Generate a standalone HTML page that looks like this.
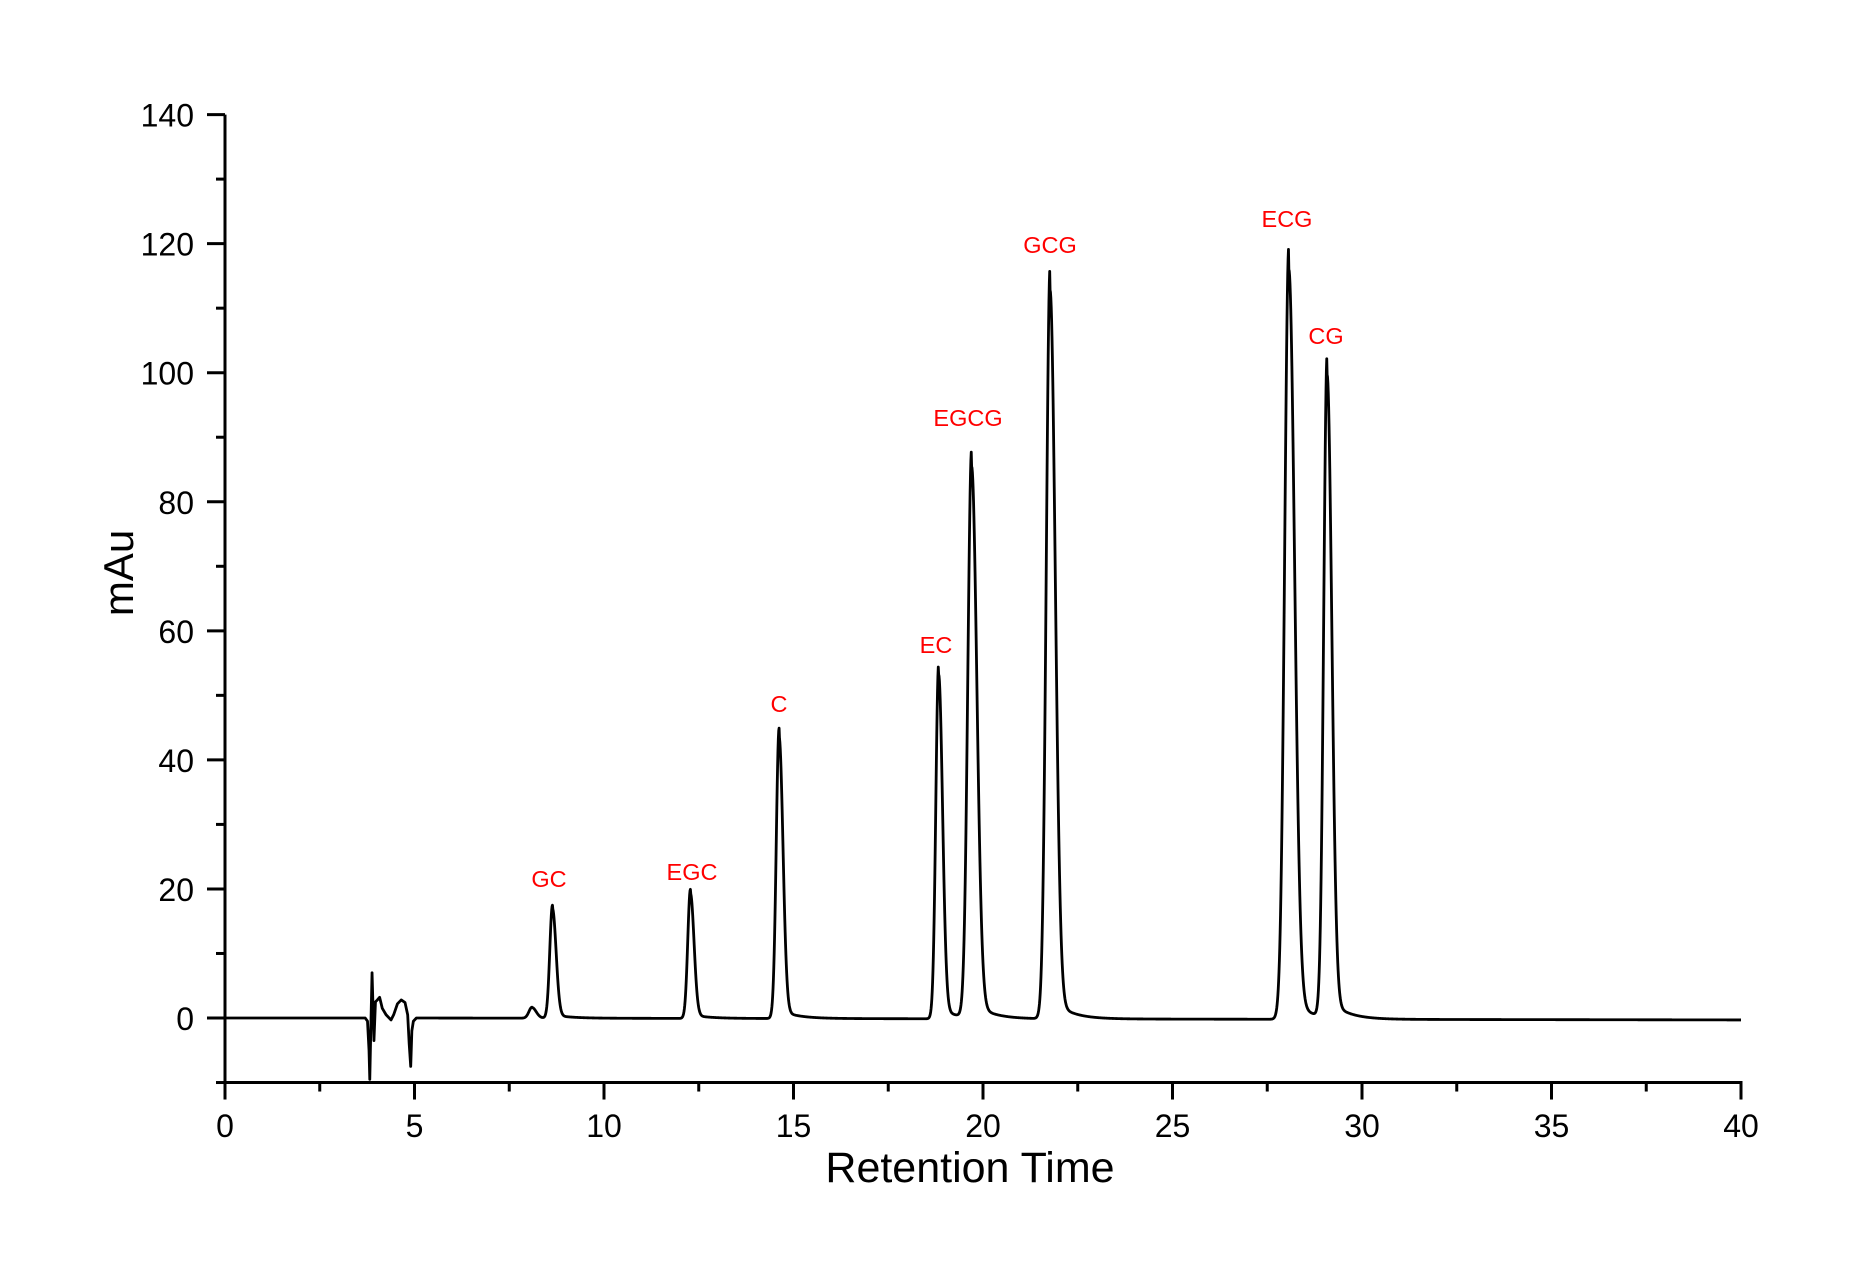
<!DOCTYPE html>
<html><head><meta charset="utf-8"><style>
html,body{margin:0;padding:0;background:#fff;}
svg{display:block;}
text{font-family:"Liberation Sans",Arial,sans-serif;}
</style></head><body>
<svg id="s" width="1855" height="1282" viewBox="0 0 1855 1282" xmlns="http://www.w3.org/2000/svg">
<rect width="1855" height="1282" fill="#fff"/>
<g id="ax" stroke="#000" stroke-width="3" fill="none"></g>
<g id="lab" font-size="32" fill="#000"></g>
<text x="970" y="1182" font-size="43" text-anchor="middle">Retention Time</text>
<text transform="translate(133,573) rotate(-90)" font-size="42" text-anchor="middle">mAu</text>
<path id="tr" fill="none" stroke="#000" stroke-width="2.8" stroke-linejoin="round"/>
<g font-size="23.5" fill="#ff0000" text-anchor="middle">
<text x="549" y="887">GC</text>
<text x="692" y="880">EGC</text>
<text x="779" y="712">C</text>
<text x="936" y="653">EC</text>
<text x="968" y="426">EGCG</text>
<text x="1050" y="253">GCG</text>
<text x="1287" y="227">ECG</text>
<text x="1326" y="344">CG</text>
</g>
</svg>
<script>
var X0=225,XS=37.9,Y0=1018,YS=6.453;
function px(t){return X0+t*XS;} function py(v){return Y0-v*YS;}
var ax=document.getElementById('ax'),lab=document.getElementById('lab'),ns='http://www.w3.org/2000/svg';
function ln(x1,y1,x2,y2){var l=document.createElementNS(ns,'line');l.setAttribute('x1',x1);l.setAttribute('y1',y1);l.setAttribute('x2',x2);l.setAttribute('y2',y2);ax.appendChild(l);}
function tx(x,y,s,a){var t=document.createElementNS(ns,'text');t.setAttribute('x',x);t.setAttribute('y',y);t.setAttribute('text-anchor',a);t.textContent=s;lab.appendChild(t);}
var yb=py(-10);
ln(X0,py(140),X0,yb+1.5); ln(X0-1.5,yb,px(40)+1.5,yb);
for(var v=-10;v<=140;v+=10){var y=py(v);var major=(v%20==0);ln(X0-(major?18:9),y,X0,y);if(major)tx(194,y+12,String(v),'end');}
for(var t=0;t<=40;t+=2.5){var x=px(t);var major=(t%5==0);ln(x,yb,x,yb+(major?17:9));if(major)tx(x,1137,String(t),'middle');}
var peaks=[[8.1,1.7,0.08],[8.64,17.5,0.07],[12.28,20,0.07],[14.62,45,0.075],[18.83,55,0.075],[19.70,88,0.1],[21.77,116.4,0.1],[28.07,119.8,0.11],[29.08,102.6,0.09]];
function f(t){var y=0;
 if(t>5){y+= -0.3*Math.min(1,(t-5)/35);}
 for(var i=0;i<peaks.length;i++){var p=peaks[i],d=t-p[0],s=p[2];
  if(d<0)y+=p[1]*Math.exp(-d*d/(2*s*s));
  else{var sr=s*1.35;y+=p[1]*(0.97*Math.exp(-d*d/(2*sr*sr))+0.03*Math.exp(-d/0.45)*(1-Math.exp(-d*d/(2*s*s))) );}
 }
 return y;}
var man=[[3.7,0],[3.76,-0.5],[3.8,-5],[3.82,-9.5],[3.85,-1],[3.88,7],[3.93,-3.5],[3.97,2.5],[4.02,2.8],[4.08,3.2],[4.15,1.5],[4.25,0.5],[4.38,-0.3],[4.45,0.5],[4.55,2.2],[4.65,2.8],[4.75,2.4],[4.82,0.5],[4.86,-4],[4.9,-7.5],[4.93,-2],[4.97,-0.5],[5.05,0]];
var d='';var pts=[];
for(var t=0;t<3.7;t+=0.05)pts.push([t,f(t)]);
for(var i=0;i<man.length;i++)pts.push([man[i][0],man[i][1]]);
for(var t=5.1;t<=40.0001;t+=0.01)pts.push([t,f(t)]);
for(var i=0;i<pts.length;i++){d+=(i?'L':'M')+px(pts[i][0]).toFixed(2)+' '+py(pts[i][1]).toFixed(2);}
document.getElementById('tr').setAttribute('d',d);
</script>
</body></html>
